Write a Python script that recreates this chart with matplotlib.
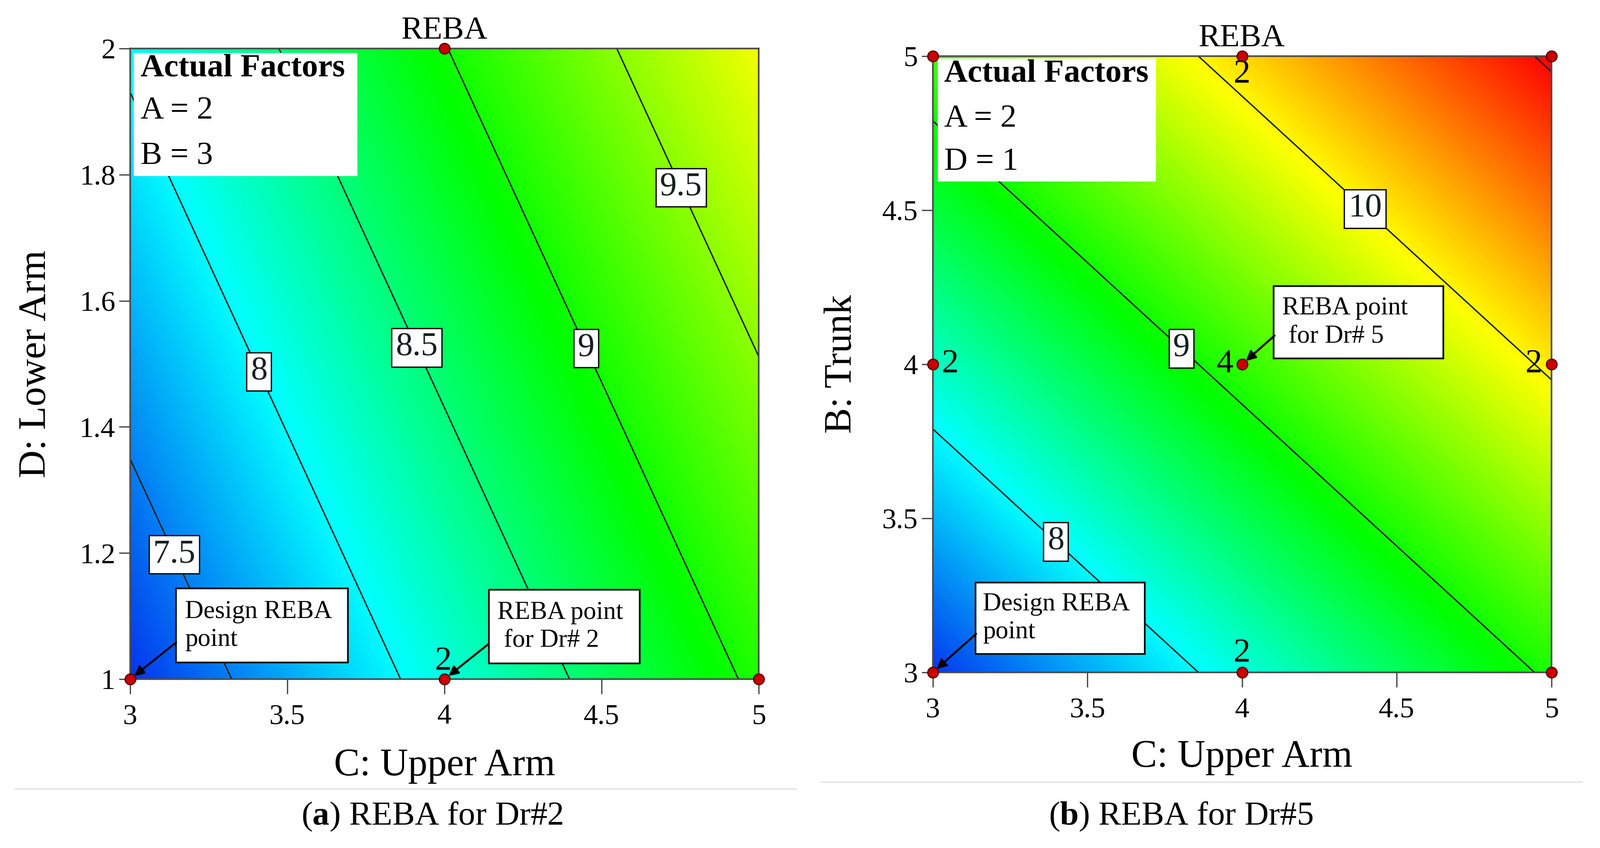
import numpy as np
import matplotlib.pyplot as plt
from matplotlib.colors import LinearSegmentedColormap, Normalize
from matplotlib.patches import Rectangle
from matplotlib.lines import Line2D

plt.rcParams['font.family'] = ['Liberation Serif', 'DejaVu Serif']
plt.rcParams['mathtext.fontset'] = 'custom'
plt.rcParams['mathtext.rm'] = 'Liberation Serif'
plt.rcParams['mathtext.bf'] = 'Liberation Serif:bold'

# factor levels of the design
upper_arm = [3, 4, 5]
lower_arm = [1, 1.5, 2]
trunk = [3, 4, 5]

# REBA at the grid nodes (rows = y factor, cols = upper arm)
reba_dr2 = [[7.20, 8.13, 9.06],
            [7.63, 8.56, 9.49],
            [8.06, 8.99, 9.92]]
reba_dr5 = [[7.21, 8.13, 9.05],
            [8.21, 9.13, 10.05],
            [9.21, 10.13, 11.05]]

levels_dr2 = [7.5, 8, 8.5, 9, 9.5]
levels_dr5 = [8, 9, 10, 11]

# design points and replicate counts
pts_dr2_c = [3, 4, 5, 4]
pts_dr2_d = [1, 1, 1, 2]
pts_dr5_c = [3, 4, 5, 3, 4, 5, 3, 4, 5]
pts_dr5_b = [3, 3, 3, 4, 4, 4, 5, 5, 5]
reps_dr2 = [(4, 1, '2')]
reps_dr5 = [(4, 5, '2'), (3, 4, '2'), (4, 4, '4'), (5, 4, '2'), (4, 3, '2')]

x_ticks = [3, 3.5, 4, 4.5, 5]
x_ticklabels = ['3', '3.5', '4', '4.5', '5']
d_ticks = [1, 1.2, 1.4, 1.6, 1.8, 2]
d_ticklabels = ['1', '1.2', '1.4', '1.6', '1.8', '2']
b_ticks = [3, 3.5, 4, 4.5, 5]
b_ticklabels = ['3', '3.5', '4', '4.5', '5']

cmap = LinearSegmentedColormap.from_list(
    'de', [(0.0, '#0535ee'), (0.21, '#00ffff'), (0.45, '#00ff00'),
           (0.72, '#ffff00'), (1.0, '#ff0000')])
zmin = min(np.min(reba_dr2), np.min(reba_dr5))
zmax = max(np.max(reba_dr2), np.max(reba_dr5))
norm = Normalize(zmin, zmax)


def surface(xs, ys, grid, n=300):
    # linear + interaction response surface fitted to the node values
    gx, gy = np.meshgrid(xs, ys)
    gx, gy, gz = gx.ravel(), gy.ravel(), np.asarray(grid).ravel()
    A = np.column_stack([np.ones_like(gx), gx, gy, gx * gy])
    coef = np.linalg.lstsq(A, gz, rcond=None)[0]
    X, Y = np.meshgrid(np.linspace(min(xs), max(xs), n),
                       np.linspace(min(ys), max(ys), n))
    Z = coef[0] + coef[1] * X + coef[2] * Y + coef[3] * X * Y
    return X, Y, Z


def draw_panel(ax, ys, grid, levels, label_pos, yticks, yticklabels, ylabel, ylab_x):
    X, Y, Z = surface(upper_arm, ys, grid)
    ax.pcolormesh(X, Y, Z, cmap=cmap, norm=norm, shading='gouraud', zorder=0)
    cs = ax.contour(X, Y, Z, levels=levels, colors='#152020', linewidths=1.1, zorder=1)
    texts = ax.clabel(cs, fmt='%g', manual=label_pos, inline=False, fontsize=27)
    for t in texts:
        t.set_rotation(0)
        t.set_zorder(4)
        t.set_bbox(dict(boxstyle='square,pad=0.12', fc='white', ec='#111111', lw=1.1))
    ax.set_xlim(min(upper_arm), max(upper_arm))
    ax.set_ylim(min(ys), max(ys))
    ax.set_xticks(x_ticks)
    ax.set_xticklabels(x_ticklabels)
    ax.set_yticks(yticks)
    ax.set_yticklabels(yticklabels)
    ax.tick_params(axis='x', length=12, width=1.0, pad=8, labelsize=23, color='#444444')
    ax.tick_params(axis='y', length=9, width=1.0, pad=3, labelsize=23, color='#444444')
    for s in ax.spines.values():
        s.set_color('#4a4a4a')
        s.set_linewidth(1.3)
    ax.set_title('REBA', fontsize=26, pad=8)
    ax.set_xlabel('C: Upper Arm', fontsize=31, va='center')
    ax.set_ylabel(ylabel, fontsize=31, va='center')
    ax.xaxis.set_label_coords(0.5, -0.138)
    ax.yaxis.set_label_coords(ylab_x, 0.5)


def factors_box(ax, x0, x1, y0, y1, tx, lines):
    ax.add_patch(Rectangle((x0, y0), x1 - x0, y1 - y0, fc='white', ec='none', zorder=3))
    for i, (txt, yy) in enumerate(lines):
        ax.text(tx, yy, txt, fontsize=26, va='center', ha='left', zorder=4,
                fontweight='bold' if i == 0 else 'normal')


def note_box(ax, x0, x1, y0, y1, tx, txt, start, target):
    ax.add_patch(Rectangle((x0, y0), x1 - x0, y1 - y0, fc='white', ec='#111111',
                           lw=1.4, zorder=5))
    ax.text(tx, (y0 + y1) / 2, txt, fontsize=20.5, va='center', ha='left',
            linespacing=1.25, zorder=6)
    ax.annotate('', xy=target, xytext=start, zorder=6, annotation_clip=False,
                arrowprops=dict(arrowstyle='-|>', color='black', lw=1.6,
                                mutation_scale=16, shrinkA=0, shrinkB=4))


def design_points(ax, xs, ys, reps, offsets):
    ax.plot(xs, ys, 'o', ms=8.5, mfc='#cc0000', mec='#5a0000', mew=1.0,
            clip_on=False, zorder=7)
    for (x, y, s), off in zip(reps, offsets):
        ax.annotate(s, (x, y), xytext=off, textcoords='offset points',
                    ha='center', va='center', fontsize=27, zorder=7,
                    annotation_clip=False)


fig = plt.figure(figsize=(17.82, 9.44), dpi=200)
ax1 = fig.add_axes([0.0814, 0.1992, 0.3928, 0.7436])
ax2 = fig.add_axes([0.5830, 0.2071, 0.3866, 0.7267])

# (a) Dr#2
draw_panel(ax1, lower_arm, reba_dr2, levels_dr2,
           [(3.15, 1.20), (3.42, 1.49), (3.93, 1.53), (4.475, 1.53), (4.78, 1.786)],
           d_ticks, d_ticklabels, 'D: Lower Arm', -0.15)
factors_box(ax1, 3.011, 3.723, 1.798, 1.993, 3.033,
            [('Actual Factors', 1.969), ('A = 2', 1.901), ('B = 3', 1.829)])
note_box(ax1, 3.146, 3.693, 1.026, 1.144, 3.174, 'Design REBA\npoint',
         (3.146, 1.058), (3.0, 1.0))
note_box(ax1, 4.141, 4.621, 1.025, 1.142, 4.168, 'REBA point\n for Dr# 2',
         (4.141, 1.056), (4.0, 1.0))
design_points(ax1, pts_dr2_c, pts_dr2_d, reps_dr2, [(-1, 14)])

# (b) Dr#5
draw_panel(ax2, trunk, reba_dr5, levels_dr5,
           [(3.43, 3.46), (3.83, 4.08), (4.43, 4.54), (4.97, 4.98)],
           b_ticks, b_ticklabels, 'B: Trunk', -0.147)
# the tiny 11 contour in the corner carries no label
for t in ax2.texts[-1:]:
    t.remove()
factors_box(ax2, 3.016, 3.721, 4.593, 4.993, 3.036,
            [('Actual Factors', 4.943), ('A = 2', 4.797), ('D = 1', 4.656)])
note_box(ax2, 4.102, 4.650, 4.019, 4.254, 4.13, 'REBA point\n for Dr# 5',
         (4.105, 4.093), (4.0, 4.0))
note_box(ax2, 3.138, 3.685, 3.060, 3.292, 3.162, 'Design REBA\npoint',
         (3.14, 3.125), (3.0, 3.0))
design_points(ax2, pts_dr5_c, pts_dr5_b, reps_dr5,
              [(0, -15), (14, 0), (-14, 0), (-14, 0), (0, 15)])

# captions and separators
fig.text(0.270, 0.037, r'($\mathbf{a}$) REBA for Dr#2', ha='center', va='center', fontsize=27)
fig.text(0.738, 0.037, r'($\mathbf{b}$) REBA for Dr#5', ha='center', va='center', fontsize=27)
fig.add_artist(Line2D([0.0095, 0.4975], [0.070, 0.070], transform=fig.transFigure,
                      color='#e4e4e4', lw=1.2))
fig.add_artist(Line2D([0.513, 0.9885], [0.078, 0.078], transform=fig.transFigure,
                      color='#e4e4e4', lw=1.2))

fig.savefig('out.png', dpi=200, facecolor='white')
